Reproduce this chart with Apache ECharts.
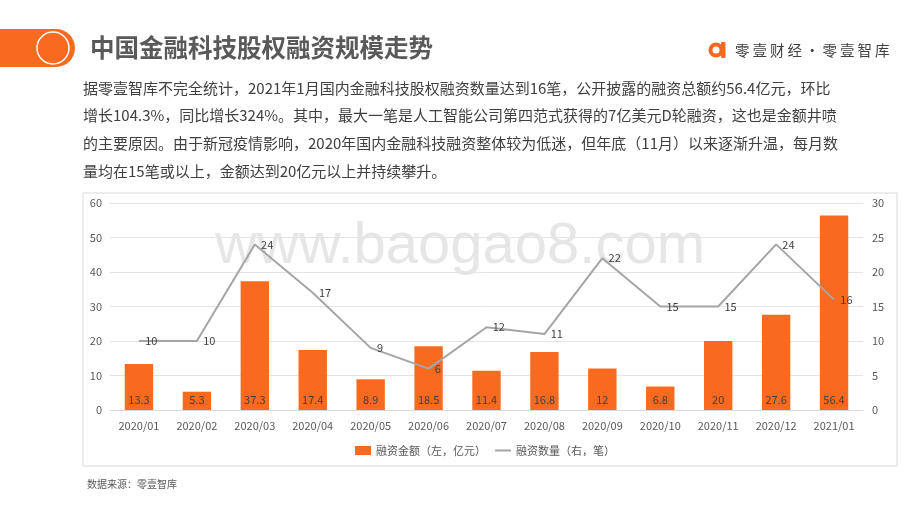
<!DOCTYPE html>
<html><head><meta charset="utf-8">
<script src="https://cdn.jsdelivr.net/npm/echarts@6/dist/echarts.min.js"></script>
<style>html,body{margin:0;padding:0;background:#fff}#c{width:920px;height:518px}</style>
</head><body><div id="c"></div>
<script>
var categories = ['2020/01','2020/02','2020/03','2020/04','2020/05','2020/06','2020/07','2020/08','2020/09','2020/10','2020/11','2020/12','2021/01'];
var amountValues = [13.3,5.3,37.3,17.4,8.9,18.5,11.4,16.8,12,6.8,20,27.6,56.4];
var countValues = [10,10,24,17,9,6,12,11,22,15,15,24,16];
var leftTicks = [0,10,20,30,40,50,60];
var rightTicks = [0,5,10,15,20,25,30];
var paragraph = [
 '据零壹智库不完全统计，2021年1月国内金融科技股权融资数量达到16笔，公开披露的融资总额约56.4亿元，环比',
 '增长104.3%，同比增长324%。其中，最大一笔是人工智能公司第四范式获得的7亿美元D轮融资，这也是金额井喷',
 '的主要原因。由于新冠疫情影响，2020年国内金融科技融资整体较为低迷，但年底（11月）以来逐渐升温，每月数',
 '量均在15笔或以上，金额达到20亿元以上并持续攀升。'
];
var FONT = '"Noto Sans CJK SC","Noto Sans",sans-serif';
var ORANGE = '#F86A20';
var chart = echarts.init(document.getElementById('c'), null, {renderer:'canvas'});
var graphics = [
 {type:'rect', shape:{x:83,y:193,width:814,height:273}, style:{fill:'none',stroke:'#D9D9D9',lineWidth:1}, z:-10},
 {type:'text', left:'center', top:218, style:{text:'www.baogao8.com', font:'58px "Liberation Sans",Arial,sans-serif', fill:'rgba(200,200,200,0.45)'}, z:-5, x:12},
 {type:'rect', shape:{x:-20,y:29,width:95,height:38,r:19}, style:{fill:ORANGE}},
 {type:'circle', shape:{cx:53,cy:48,r:16}, style:{fill:'none',stroke:'#fff',lineWidth:1.5}},
 {type:'text', x:90, y:48, style:{text:'中国金融科技股权融资规模走势', font:'bold 24.5px '+FONT, fill:'#595959', textVerticalAlign:'middle'}},
 {type:'circle', shape:{cx:716,cy:50,r:5.5}, style:{fill:'none',stroke:ORANGE,lineWidth:4}},
 {type:'rect', shape:{x:721,y:42,width:4.5,height:16,r:1}, style:{fill:ORANGE}},
 {type:'text', x:87, y:484, style:{text:'数据来源：零壹智库', font:'10px '+FONT, fill:'#595959', textVerticalAlign:'middle'}}
];
var logoChars = Array.from('零壹财经·零壹智库');
logoChars.forEach(function(ch,i){
  graphics.push({type:'text', x:735 + i*17.5, y:50, style:{text:ch, font:'14.5px '+FONT, fill:'#404040', textVerticalAlign:'middle'}});
});
var lineY = [88,115,143,171];
paragraph.forEach(function(t,i){
  graphics.push({type:'text', x:83, y:lineY[i], style:{text:t, font:'15px '+FONT, fill:'#404040', textVerticalAlign:'middle'}});
});
chart.setOption({
  animation:false,
  textStyle:{fontFamily:FONT},
  grid:{left:110, right:57, top:203, bottom:108, containLabel:false},
  legend:{bottom:57, left:350, itemWidth:16, itemHeight:9, itemGap:8, textStyle:{fontSize:11, color:'#595959'},
    data:[{name:'融资金额（左，亿元）', icon:'rect'}, {name:'融资数量（右，笔）', itemStyle:{opacity:0}}]},
  xAxis:{type:'category', data:categories, axisTick:{show:false}, axisLine:{lineStyle:{color:'#D9D9D9'}},
    axisLabel:{color:'#595959', fontSize:11, margin:10}},
  yAxis:[
    {type:'value', min:leftTicks[0], max:leftTicks[leftTicks.length-1], interval:10, axisLine:{show:false}, axisTick:{show:false},
     axisLabel:{color:'#595959', fontSize:11, margin:8}, splitLine:{lineStyle:{color:'#E4E4E4'}}},
    {type:'value', min:rightTicks[0], max:rightTicks[rightTicks.length-1], interval:5, axisLine:{show:false}, axisTick:{show:false},
     axisLabel:{color:'#595959', fontSize:11, margin:9}, splitLine:{show:false}}
  ],
  series:[
    {name:'融资金额（左，亿元）', type:'bar', data:amountValues, barWidth:'49%', yAxisIndex:0,
     itemStyle:{color:ORANGE},
     label:{show:true, position:'insideBottom', distance:5, color:'#404040', fontSize:11}},
    {name:'融资数量（右，笔）', type:'line', data:countValues, yAxisIndex:1, symbol:'circle', symbolSize:0.5, showSymbol:true,
     lineStyle:{color:'#A5A5A5', width:2}, itemStyle:{color:'#A5A5A5'},
     label:{show:true, position:'right', distance:6, color:'#404040', fontSize:11}}
  ],
  graphic:graphics
});
</script></body></html>
